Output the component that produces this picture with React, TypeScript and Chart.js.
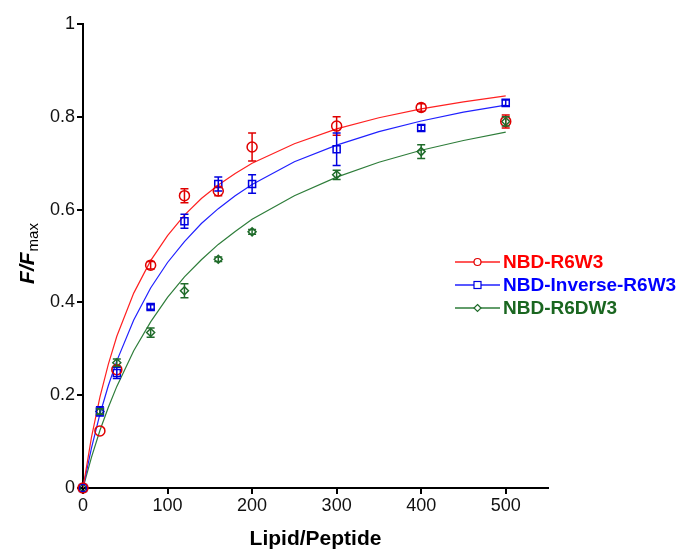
import React, { useEffect, useRef } from "react";
import { Chart, registerables } from "chart.js";

Chart.register(...registerables);

const FONT = "'Liberation Sans', Arial, sans-serif";

const xValues = [0, 20, 40, 80, 120, 160, 200, 300, 400, 500];
const redY = [0, 0.123, 0.255, 0.48, 0.63, 0.64, 0.735, 0.78, 0.82, 0.79];
const redErr = [0, 0, 0, 0.008, 0.015, 0.01, 0.03, 0.02, 0.008, 0.014];
const blueY = [0, 0.165, 0.248, 0.39, 0.575, 0.655, 0.655, 0.73, 0.776, 0.83];
const blueErr = [0, 0.01, 0.012, 0.005, 0.015, 0.015, 0.02, 0.035, 0.006, 0.006];
const greenY = [0, 0.165, 0.27, 0.335, 0.425, 0.493, 0.552, 0.675, 0.725, 0.79];
const greenErr = [0, 0.006, 0.008, 0.01, 0.015, 0.005, 0.005, 0.01, 0.015, 0.01];

const fitX = [0, 10, 20, 30, 40, 60, 80, 100, 120, 140, 160, 180, 200, 250, 300, 350, 400, 450, 500];
const redFit = [0, 0.109, 0.196, 0.267, 0.327, 0.42, 0.49, 0.544, 0.588, 0.624, 0.653, 0.678, 0.7, 0.742, 0.774, 0.798, 0.817, 0.832, 0.845];
const blueFit = [0, 0.086, 0.159, 0.221, 0.274, 0.362, 0.431, 0.486, 0.531, 0.57, 0.602, 0.63, 0.654, 0.703, 0.739, 0.768, 0.791, 0.81, 0.825];
const greenFit = [0, 0.066, 0.124, 0.174, 0.219, 0.296, 0.358, 0.411, 0.455, 0.492, 0.525, 0.553, 0.579, 0.63, 0.67, 0.702, 0.728, 0.749, 0.767];

const xTicks = [0, 100, 200, 300, 400, 500];

const seriesNames = ["NBD-R6W3", "NBD-Inverse-R6W3", "NBD-R6DW3"];
const lineColors = ["#ff2020", "#2020ff", "#2e7d3a"];
const markerColors = ["#e00000", "#0000e0", "#1f6b2a"];
const textColors = ["#ff0000", "#0000ff", "#1a6620"];
const markerStyles = ["circle", "rect", "rectRot"];
const markerRadius = [5, 5, 4];

const pts = (xs: number[], ys: number[]) => xs.map((x, i) => ({ x, y: ys[i] }));

export default function App() {
  const ref = useRef<HTMLCanvasElement | null>(null);

  useEffect(() => {
    if (!ref.current) return;
    const series = [redY, blueY, greenY];
    const errs = [redErr, blueErr, greenErr];
    const fits = [redFit, blueFit, greenFit];

    const datasets: any[] = [];
    series.forEach((ys, k) => {
      datasets.push({
        label: seriesNames[k],
        data: pts(xValues, ys),
        showLine: false,
        pointStyle: markerStyles[k],
        pointRadius: markerRadius[k],
        pointBorderWidth: 1.5,
        borderColor: markerColors[k],
        backgroundColor: "rgba(0,0,0,0)",
        clip: false,
      });
    });
    fits.forEach((ys, k) => {
      datasets.push({
        label: seriesNames[k] + " fit",
        data: pts(fitX, ys),
        showLine: true,
        pointRadius: 0,
        borderWidth: 1.2,
        borderColor: lineColors[k],
        backgroundColor: lineColors[k],
        tension: 0,
      });
    });

    const errorBars = {
      id: "errorBars",
      afterDatasetsDraw(chart: any) {
        const { ctx, scales } = chart;
        ctx.save();
        series.forEach((ys, k) => {
          ctx.strokeStyle = markerColors[k];
          ctx.lineWidth = 1.5;
          ys.forEach((y, i) => {
            const e = errs[k][i];
            if (!e) return;
            const px = scales.x.getPixelForValue(xValues[i]);
            const top = scales.y.getPixelForValue(y + e);
            const bot = scales.y.getPixelForValue(y - e);
            ctx.beginPath();
            ctx.moveTo(px, top);
            ctx.lineTo(px, bot);
            ctx.moveTo(px - 4, top);
            ctx.lineTo(px + 4, top);
            ctx.moveTo(px - 4, bot);
            ctx.lineTo(px + 4, bot);
            ctx.stroke();
          });
        });
        ctx.restore();
      },
    };

    const legendAndTitle = {
      id: "legendAndTitle",
      afterDraw(chart: any) {
        const { ctx } = chart;
        ctx.save();
        // legend
        const rows = [262, 285, 308];
        seriesNames.forEach((name, k) => {
          const y = rows[k];
          ctx.strokeStyle = lineColors[k];
          ctx.lineWidth = 1.5;
          ctx.beginPath();
          ctx.moveTo(455, y);
          ctx.lineTo(500, y);
          ctx.stroke();
          ctx.fillStyle = "#ffffff";
          ctx.strokeStyle = markerColors[k];
          ctx.lineWidth = 1.2;
          const mx = 477.5;
          if (k === 0) {
            ctx.beginPath();
            ctx.arc(mx, y, 3.5, 0, Math.PI * 2);
            ctx.fill();
            ctx.stroke();
          } else if (k === 1) {
            ctx.fillRect(mx - 3.5, y - 3.5, 7, 7);
            ctx.strokeRect(mx - 3.5, y - 3.5, 7, 7);
          } else {
            ctx.beginPath();
            ctx.moveTo(mx, y - 3.5);
            ctx.lineTo(mx + 3.5, y);
            ctx.lineTo(mx, y + 3.5);
            ctx.lineTo(mx - 3.5, y);
            ctx.closePath();
            ctx.fill();
            ctx.stroke();
          }
          ctx.fillStyle = textColors[k];
          ctx.font = `bold 19px ${FONT}`;
          ctx.textAlign = "left";
          ctx.textBaseline = "middle";
          ctx.fillText(name, 503, y + 1);
        });
        // y axis title F/Fmax
        ctx.translate(27, 254);
        ctx.rotate(-Math.PI / 2);
        ctx.fillStyle = "#000";
        ctx.textBaseline = "alphabetic";
        ctx.textAlign = "left";
        const mainFont = `italic bold 21px ${FONT}`;
        const subFont = `15px ${FONT}`;
        ctx.font = mainFont;
        const w1 = ctx.measureText("F/F").width;
        ctx.font = subFont;
        const w2 = ctx.measureText("max").width;
        const start = -(w1 + w2) / 2;
        ctx.font = mainFont;
        ctx.fillText("F/F", start, 7);
        ctx.font = subFont;
        ctx.fillText("max", start + w1 + 1, 11);
        ctx.restore();
      },
    };

    const chart = new Chart(ref.current, {
      type: "scatter",
      data: { datasets },
      options: {
        animation: false,
        responsive: false,
        layout: { padding: { top: 24, right: 133, bottom: -3, left: 0 } },
        plugins: { legend: { display: false }, tooltip: { enabled: false } },
        scales: {
          x: {
            type: "linear",
            min: 0,
            max: 550,
            afterBuildTicks: (scale: any) => {
              scale.ticks = xTicks.map((v) => ({ value: v }));
            },
            afterFit: (scale: any) => {
              scale.height = 64;
            },
            ticks: {
              font: { family: FONT, size: 18 },
              color: "#111",
              padding: 1,
              maxRotation: 0,
            },
            grid: {
              drawOnChartArea: false,
              drawTicks: true,
              tickLength: 6,
              color: "#000",
              lineWidth: 2,
            },
            border: { display: true, color: "#000", width: 2 },
            title: {
              display: true,
              text: "Lipid/Peptide",
              font: { family: FONT, size: 21, weight: "bold" },
              color: "#000",
              padding: { top: 2, bottom: 0 },
            },
          },
          y: {
            type: "linear",
            min: 0,
            max: 1,
            afterFit: (scale: any) => {
              scale.width = 83;
            },
            ticks: {
              stepSize: 0.2,
              font: { family: FONT, size: 18 },
              color: "#111",
              padding: 2,
              callback: (v: any) => {
                const n = Number(v);
                if (Math.abs(n) < 1e-9) return "0";
                if (Math.abs(n - 1) < 1e-9) return "1";
                return n.toFixed(1);
              },
            },
            grid: {
              drawOnChartArea: false,
              drawTicks: true,
              tickLength: 6,
              color: "#000",
              lineWidth: 2,
            },
            border: { display: true, color: "#000", width: 2 },
          },
        },
      },
      plugins: [errorBars, legendAndTitle],
    });
    return () => chart.destroy();
  }, []);

  return (
    <div style={{ position: "absolute", left: 0, top: 0, width: 681, height: 549, background: "#fff" }}>
      <canvas ref={ref} width={681} height={549} style={{ width: 681, height: 549, display: "block" }} />
    </div>
  );
}
